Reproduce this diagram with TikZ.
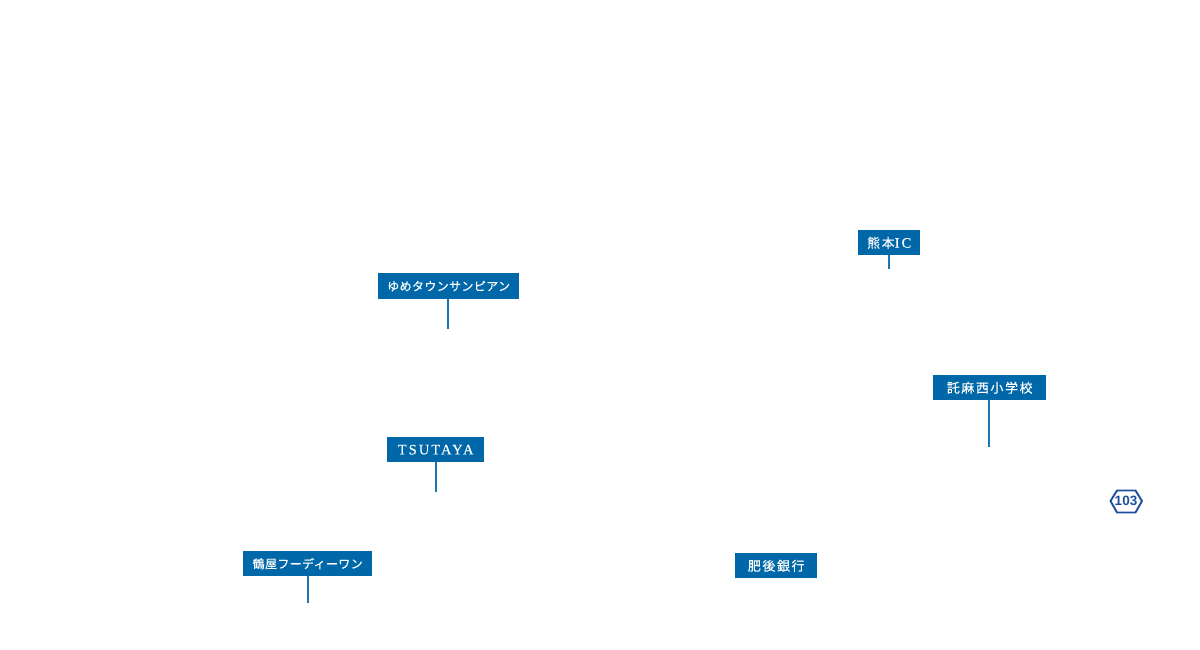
\documentclass[tikz,border=0pt]{standalone}
\usepackage{fontspec}
\usetikzlibrary{shapes.geometric}
\newfontfamily\cjkfont[LetterSpace=3,FakeBold=0.15]{Noto Sans CJK JP}
\newfontfamily\kanjifont[LetterSpace=12,FakeBold=0.15]{Noto Sans CJK JP}
\newfontfamily\latinfont[LetterSpace=14,FakeBold=0.1]{Liberation Serif}
\newfontfamily\roadfont{Liberation Sans}[BoldFont={Liberation Sans Bold}]
\definecolor{boxblue}{HTML}{0068A9}
\definecolor{stemblue}{HTML}{1A78B2}
\definecolor{roadblue}{HTML}{1C4E9C}
\tikzset{
  x=1pt,y=-1pt,
  label box/.style={fill=boxblue,text=white,inner sep=0pt,font=\cjkfont\fontsize{12}{13}\selectfont,anchor=north west},
  kanji box/.style={label box,font=\kanjifont\fontsize{13}{14}\selectfont,text height=11pt,text depth=1pt},
  stem/.style={draw=stemblue,line width=1.6pt},
  road number/.style={text=roadblue,inner sep=0pt,font=\roadfont\bfseries\fontsize{13.5}{15}\selectfont},
  road hex/.style={draw=roadblue,line width=1.9pt,line join=round}
}
\begin{document}
\begin{tikzpicture}
\useasboundingbox (0,0) rectangle (1200,650);
\node[label box,minimum width=141pt,minimum height=26pt] (yume) at (378,273) {ゆめタウンサンピアン};
\node[label box,minimum width=97pt,minimum height=25pt] (tsutaya) at (387,437) {\latinfont\fontsize{14.5}{15}\selectfont TSUTAYA};
\node[label box,minimum width=129pt,minimum height=25pt] (tsuruya) at (243,551) {鶴屋フーディーワン};
\node[kanji box,minimum width=62pt,minimum height=25pt] (ic) at (858,230) {熊本{\latinfont\fontsize{14.5}{15}\selectfont IC}};
\node[kanji box,minimum width=113pt,minimum height=25pt] (school) at (933,375) {託麻西小学校};
\node[kanji box,minimum width=82pt,minimum height=25pt] (bank) at (735,553) {肥後銀行};
\coordinate (yumeend) at (448,329);
\coordinate (tsutayaend) at (436,492);
\coordinate (tsuruyaend) at (308,603);
\coordinate (icend) at (889,269);
\coordinate (schoolend) at (989,447);
\draw[stem] (yume.south -| yumeend) -- (yumeend);
\draw[stem] (tsutaya.south -| tsutayaend) -- (tsutayaend);
\draw[stem] (tsuruya.south -| tsuruyaend) -- (tsuruyaend);
\draw[stem] (ic.south -| icend) -- (icend);
\draw[stem] (school.south -| schoolend) -- (schoolend);
\node[road number] (road) at (1126,501) {103};
\draw[road hex] (1110.5,501) -- (1117,490.5) -- (1135.5,490.5) -- (1142,501) -- (1135.5,512.5) -- (1117,512.5) -- cycle;
\end{tikzpicture}
\end{document}
